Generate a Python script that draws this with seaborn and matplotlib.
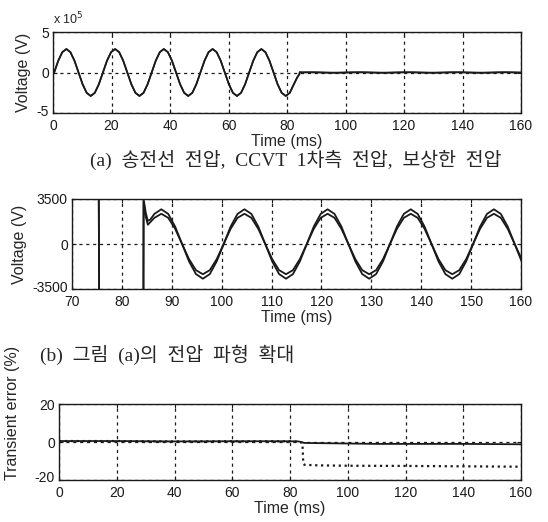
import numpy as np
import matplotlib
matplotlib.use("Agg")
import matplotlib.pyplot as plt
import matplotlib.transforms as mtransforms
import seaborn as sns

# -- Data -----------------------------------------------------------------------
# sampling grid: 12 samples per 60 Hz cycle, first rising zero at 0.4 ms
STEP = 1000.0 / 60.0 / 12.0
T_PRE = 0.4 + STEP * np.arange(60)           # 0.4 .. 82.4 ms
T_POST = 0.4 + STEP * np.arange(62, 116)     # 86.5 .. 160.1 ms

# pre-fault line voltage, x 1e5 V
V_PRE = [
    0.0, 1.45, 2.51, 2.9, 2.51, 1.45, 0.0, -1.45, -2.51, -2.9, -2.51, -1.45,
    0.0, 1.45, 2.51, 2.9, 2.51, 1.45, 0.0, -1.45, -2.51, -2.9, -2.51, -1.45,
    0.0, 1.45, 2.51, 2.9, 2.51, 1.45, 0.0, -1.45, -2.51, -2.9, -2.51, -1.45,
    0.0, 1.45, 2.51, 2.9, 2.51, 1.45, 0.0, -1.45, -2.51, -2.9, -2.51, -1.45,
    0.0, 1.45, 2.51, 2.9, 2.51, 1.45, 0.0, -1.45, -2.51, -2.9, -2.51, -1.45,
]

# fault transient (ms, V)
T_FAULT = [83.5, 84.25, 84.35, 84.8, 85.2, 85.7]
V_FAULT_OUTER = [-60000, -20000, 3500, 2400, 1800, 1900]
V_FAULT_INNER = [-60000, -20000, 3300, 2100, 1500, 1700]

# post-fault voltages (V)
V_POST_OUTER = [
    2340, 2700, 2340, 1350, 0, -1350, -2340, -2700, -2340, -1350,
    0, 1350, 2340, 2700, 2340, 1350, 0, -1350, -2340, -2700, -2340, -1350,
    0, 1350, 2340, 2700, 2340, 1350, 0, -1350, -2340, -2700, -2340, -1350,
    0, 1350, 2340, 2700, 2340, 1350, 0, -1350, -2340, -2700, -2340, -1350,
    0, 1350, 2340, 2700, 2340, 1350, 0, -1350,
]
V_POST_INNER = [
    2035, 2350, 2035, 1175, 0, -1175, -2035, -2350, -2035, -1175,
    0, 1175, 2035, 2350, 2035, 1175, 0, -1175, -2035, -2350, -2035, -1175,
    0, 1175, 2035, 2350, 2035, 1175, 0, -1175, -2035, -2350, -2035, -1175,
    0, 1175, 2035, 2350, 2035, 1175, 0, -1175, -2035, -2350, -2035, -1175,
    0, 1175, 2035, 2350, 2035, 1175, 0, -1175,
]

# transient error (%), panel c
T_ERR_COMP = [0, 20, 40, 60, 80, 83, 85, 90, 100, 110, 120, 140, 160]
E_COMP = [0.5, 0.5, 0.3, 0.4, 0.4, 0.3, -0.5, -0.6, -0.8, -1.0, -1.0, -1.0, -1.2]
T_ERR_RAW = [0, 20, 40, 60, 80, 83, 84.3, 84.6, 85, 90, 100, 120, 140, 160]
E_RAW = [0.5, 0.5, 0.3, 0.4, 0.4, 0.2, -0.5, -11.5, -12.0, -12.3, -12.5, -12.6, -12.8, -13.0]

CAPTION_A = "(a)  송전선  전압,  CCVT  1차측  전압,  보상한  전압"
CAPTION_B = "(b)  그림  (a)의  전압  파형  확대"

# -- Style ----------------------------------------------------------------------
sns.set_theme(style="ticks")
plt.rcParams["font.family"] = ["Liberation Sans", "DejaVu Sans"]
plt.rcParams["xtick.direction"] = "in"
plt.rcParams["ytick.direction"] = "in"
plt.rcParams["xtick.top"] = True
plt.rcParams["ytick.right"] = True
TICK_FS = 10
LABEL_FS = 11.5
GRID = dict(color="k", linestyle=(0, (2.5, 3)), linewidth=0.9)

t_all = np.concatenate([T_PRE, T_FAULT, T_POST])
v_outer = np.concatenate([np.array(V_PRE) * 1e5, V_FAULT_OUTER, V_POST_OUTER])
v_inner = np.concatenate([np.array(V_PRE) * 1e5, V_FAULT_INNER, V_POST_INNER])

W, H = 548, 522
fig = plt.figure(figsize=(W / 100, H / 100), dpi=100)


def px_axes(left, top, right, bottom):
    return fig.add_axes([left / W, 1 - bottom / H, (right - left) / W, (bottom - top) / H])


def style(ax, xticks, yticks, ylabels):
    ax.set_xticks(xticks)
    ax.set_yticks(yticks)
    ax.set_yticklabels(ylabels)
    ax.tick_params(labelsize=TICK_FS, length=3, width=0.8, colors="k")
    ax.tick_params(axis="x", pad=4)
    ax.tick_params(axis="y", pad=3)
    for s in ax.spines.values():
        s.set_linewidth(1.0)
        s.set_color("k")
    ax.set_xlabel("Time (ms)", fontsize=LABEL_FS, labelpad=1)
    ax.grid(True, **GRID)
    # nudge lowest y label up a little so it clears the first x label
    lab = ax.get_yticklabels()[0]
    lab.set_transform(lab.get_transform() + mtransforms.ScaledTranslation(0, 3 / 100, fig.dpi_scale_trans))


# (a) full voltage
ax1 = px_axes(53, 32, 521, 113)
sns.lineplot(x=t_all, y=v_outer / 1e5, ax=ax1, color="k", linewidth=1.2, estimator=None, sort=False)
sns.lineplot(x=t_all, y=v_inner / 1e5, ax=ax1, color="k", linewidth=1.2, estimator=None, sort=False)
ax1.set_xlim(0, 160)
ax1.set_ylim(-5, 5)
style(ax1, np.arange(0, 161, 20), [-5, 0, 5], ["-5", "0", "5"])
ax1.set_ylabel("Voltage (V)", fontsize=LABEL_FS, labelpad=4)
ax1.text(0.0, 1.06, r"x 10$^5$", transform=ax1.transAxes, fontsize=9, ha="left", va="bottom")

# (b) zoom
ax2 = px_axes(72, 199, 521, 289)
sns.lineplot(x=t_all, y=v_outer, ax=ax2, color="k", linewidth=1.3, estimator=None, sort=False)
sns.lineplot(x=t_all, y=v_inner, ax=ax2, color="k", linewidth=1.3, estimator=None, sort=False)
ax2.set_xlim(70, 160)
ax2.set_ylim(-3500, 3500)
style(ax2, np.arange(70, 161, 10), [-3500, 0, 3500], ["-3500", "0", "3500"])
ax2.set_ylabel("Voltage (V)", fontsize=LABEL_FS, labelpad=4)

# (c) transient error
ax3 = px_axes(59, 404, 521, 480)
sns.lineplot(x=T_ERR_COMP, y=E_COMP, ax=ax3, color="k", linewidth=1.3, estimator=None)
sns.lineplot(x=T_ERR_RAW, y=E_RAW, ax=ax3, color="k", linewidth=1.6, linestyle=":", estimator=None)
ax3.set_xlim(0, 160)
ax3.set_ylim(-20, 20)
style(ax3, np.arange(0, 161, 20), [-20, 0, 20], ["-20", "0", "20"])
ax3.set_ylabel("Transient error (%)", fontsize=LABEL_FS)
ax3.yaxis.set_label_coords(-0.085, 0.88)

cap_font = ["Liberation Serif", "Noto Sans CJK KR"]
fig.text(296 / W, 1 - 160 / H, CAPTION_A, family=cap_font, fontsize=14, ha="center", va="center")
fig.text(40 / W, 1 - 355 / H, CAPTION_B, family=cap_font, fontsize=14, ha="left", va="center")

fig.savefig("out.png", dpi=100)
